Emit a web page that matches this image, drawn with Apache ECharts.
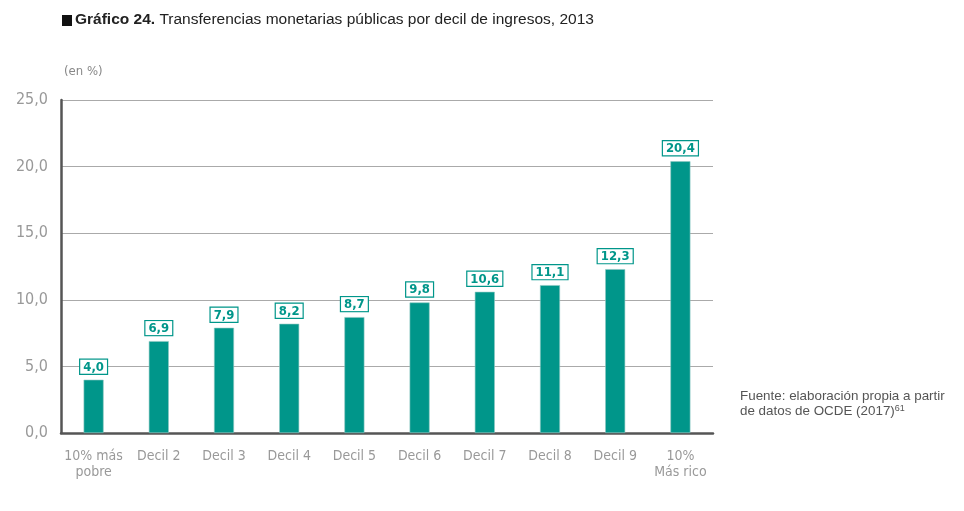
<!DOCTYPE html>
<html><head><meta charset="utf-8">
<script src="https://cdn.jsdelivr.net/npm/echarts@6/dist/echarts.min.js"></script>
<style>html,body{margin:0;padding:0;background:#fff}#c{width:964px;height:511px}</style>
</head><body><div id="c"></div>
<script>
const categories = ['10% más\npobre','Decil 2','Decil 3','Decil 4','Decil 5','Decil 6','Decil 7','Decil 8','Decil 9','10%\nMás rico'];
const values = [4.0, 6.9, 7.9, 8.2, 8.7, 9.8, 10.6, 11.1, 12.3, 20.4];
const yTicks = [0, 5, 10, 15, 20, 25];
const teal = '#00968a';
const fmt = v => v.toFixed(1).replace('.', ',');
const labelFont = '"DejaVu Sans Condensed","Liberation Sans Narrow","Roboto",sans-serif';
const textFont = '"Liberation Sans", Arial, sans-serif';
const chart = echarts.init(document.getElementById('c'), null, {renderer:'canvas'});
chart.setOption({
  animation:false,
  graphic:[
    {type:'rect', shape:{x:62,y:15,width:10,height:11}, style:{fill:'#111'}},
    {type:'text', left:75, top:12, style:{rich:{b:{fontWeight:'bold',fontSize:15.5,fill:'#222',fontFamily:textFont},n:{fontSize:15.5,fill:'#222',fontFamily:textFont}}, text:'{b|Gráfico 24.}{n| Transferencias monetarias públicas por decil de ingresos, 2013}'}},
    {type:'text', left:64, top:65, style:{text:'(en %)', fontSize:13, fill:'#888', fontFamily:labelFont}},
    {type:'text', left:740, top:390, style:{rich:{a:{fontSize:13.4,fill:'#555',fontFamily:textFont,lineHeight:15},s:{fontSize:9,fill:'#555',fontFamily:textFont,verticalAlign:'top',lineHeight:15,padding:[0,0,6,0]}}, text:'{a|Fuente: elaboración propia a partir}\n{a|de datos de OCDE (2017)}{s|61}'}}
  ],
  grid:{left:61, right:251, top:100, bottom:78},
  xAxis:{type:'category', data:categories,
    axisLine:{lineStyle:{color:'#555', width:2.5}},
    axisTick:{show:false},
    axisLabel:{color:'#999', fontSize:14, fontFamily:labelFont, margin:15, lineHeight:16, interval:0}},
  yAxis:{type:'value', min:0, max:25, interval:5,
    axisLine:{show:true, lineStyle:{color:'#555', width:2.5}},
    axisTick:{show:false},
    splitLine:{lineStyle:{color:'#aaa', width:1}},
    axisLabel:{color:'#999', fontSize:16, fontFamily:labelFont, margin:13, formatter:v=>fmt(v)}},
  series:[{type:'bar', data:values, barWidth:20,
    itemStyle:{color:teal, borderColor:'#8fc8c2', borderWidth:0.6},
    label:{show:true, position:'top', distance:6, formatter:p=>fmt(p.value),
      color:teal, fontWeight:'bold', fontSize:13, fontFamily:labelFont,
      backgroundColor:'#fff', borderColor:teal, borderWidth:1.2, padding:[1,3,0,3]}}]
});
</script></body></html>
